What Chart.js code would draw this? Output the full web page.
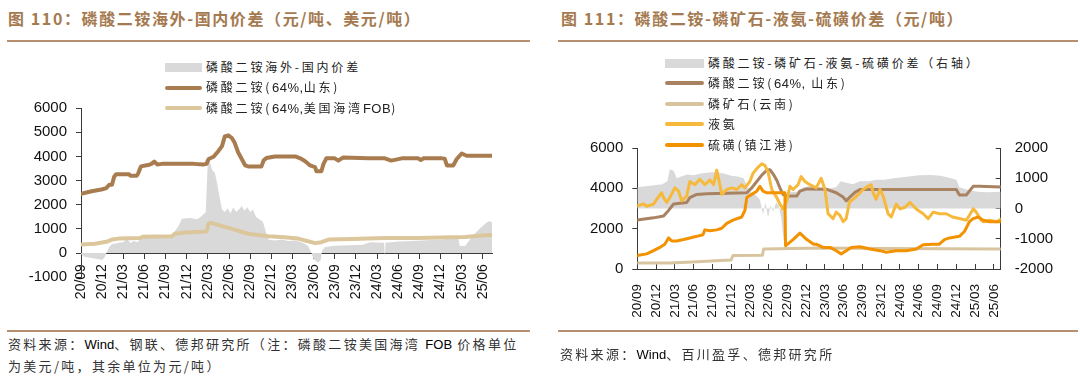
<!DOCTYPE html>
<html><head><meta charset="utf-8">
<script src="https://cdn.jsdelivr.net/npm/chart.js@4.4.1/dist/chart.umd.min.js"></script>
<style>
html,body{margin:0;padding:0;background:#fff;}
body{width:1080px;height:383px;position:relative;overflow:hidden;font-family:"Noto Sans CJK SC","Noto Sans",sans-serif;}
.title{position:absolute;top:8px;font-size:16px;font-weight:bold;color:#a57a50;letter-spacing:1.6px;white-space:nowrap;line-height:20px;}
.rule{position:absolute;height:2px;background:#b58f6f;}
.src{position:absolute;font-size:13px;color:#333;letter-spacing:2.3px;line-height:21px;white-space:nowrap;}
.src b{font-family:"Liberation Sans",Arial,sans-serif;font-weight:normal;color:#000;letter-spacing:0;}
.leg{position:absolute;font-size:12px;color:#222;letter-spacing:2.8px;white-space:nowrap;}
.leg .row{position:absolute;left:0;height:20px;line-height:20px;display:flex;align-items:center;}
.leg .sw{display:inline-block;margin-right:4px;}
.leg .num{font-family:"Liberation Sans",Arial,sans-serif;letter-spacing:0.5px;font-size:13px;}
canvas{position:absolute;}
</style></head><body>

<div class="title" style="left:8px">图 110：磷酸二铵海外-国内价差（元/吨、美元/吨）</div>
<div class="rule" style="left:7px;top:40px;width:523px"></div>
<div class="title" style="left:561px">图 111：磷酸二铵-磷矿石-液氨-硫磺价差（元/吨）</div>
<div class="rule" style="left:558px;top:40px;width:520px"></div>

<canvas id="cL" width="540" height="230" style="left:0;top:90px;width:540px;height:230px"></canvas>
<canvas id="cR" width="540" height="230" style="left:540px;top:120px;width:540px;height:230px"></canvas>

<div class="leg" id="legL" style="left:165px;top:57px"></div>
<div class="leg" id="legR" style="left:665px;top:53px"></div>

<div class="rule" style="left:7px;top:330px;width:523px"></div>
<div class="rule" style="left:558px;top:330px;width:520px"></div>
<div class="src" style="left:8px;top:333px">资料来源：<b>Wind</b>、钢联、德邦研究所（注：磷酸二铵美国海湾 <b>FOB</b> 价格单位<br>为美元/吨，其余单位为元/吨）</div>
<div class="src" style="left:560px;top:343px">资料来源：<b>Wind</b>、百川盈孚、德邦研究所</div>

<script>
// ---------- DATA (x = months after 2020-09, y = value) ----------
const quarterLabels = ['20/09','20/12','21/03','21/06','21/09','21/12','22/03','22/06','22/09','22/12',
  '23/03','23/06','23/09','23/12','24/03','24/06','24/09','24/12','25/03','25/06'];

// Figure 110
const dapShandongL = [[0,2450],[1.5,2560],[2.9,2630],[3.6,2690],[4.0,2825],[4.4,2825],[4.7,3160],[5.0,3265],[6.8,3265],[7.0,3200],
  [7.9,3200],[8.1,3290],[8.5,3585],[9.5,3640],[10.0,3690],[10.4,3785],[10.8,3665],[11.5,3690],[14,3700],[16,3690],[17.3,3660],[17.8,3690],
  [18.1,3890],[18.8,3985],[19.5,4225],[20.0,4425],[20.4,4825],[20.9,4870],[21.4,4760],[21.8,4560],[22.3,4160],[22.8,3890],
  [23.3,3625],[23.7,3585],[25.6,3585],[25.9,3825],[26.3,3930],[27.5,3998],[30.4,3998],[31.1,3918],[31.8,3800],[32.5,3625],
  [33.2,3558],[33.4,3385],[34.1,3385],[34.4,3690],[34.8,3918],[36.0,3918],[36.5,3825],[37.2,3958],[40.8,3918],[43.1,3918],
  [44.0,3825],[45.5,3918],[47.8,3918],[48.2,3852],[48.6,3918],[51.2,3918],[51.6,3900],[51.9,3625],[52.8,3625],[53.3,3890],
  [54.0,4118],[54.7,4025],[58.3,4025]];
const dapGulfFob = [[0,360],[2.0,387],[3.6,467],[4.4,560],[5.3,600],[8.4,625],[8.8,680],[12.9,693],[13.3,800],[14.8,850],
  [17.8,893],[18.1,1225],[18.5,1250],[19.5,1160],[21.4,1000],[23.7,800],[26.6,693],[28.9,653],[30.8,600],[32.2,493],
  [33.2,413],[34.1,453],[35.1,560],[38.4,587],[43.1,627],[47.8,627],[52.6,653],[54.5,667],[56.4,720],[58.3,747]];
const dapSpread = [[0,-50],[0.5,-150],[1.5,-200],[2.5,-250],[3.0,-280],[3.4,-150],[3.6,0],[4.0,250],[4.4,380],[5.0,400],
  [5.3,430],[6.0,450],[6.5,600],[7.0,420],[7.5,500],[8.0,450],[8.6,650],[9.5,640],[10.5,680],[11.5,620],[12.5,700],
  [12.9,700],[13.3,900],[13.8,1100],[14.3,1425],[15.5,1450],[16.5,1400],[17.0,1500],[17.7,1700],[18.0,3900],[18.3,3750],
  [18.6,3450],[19.0,3300],[19.3,2900],[19.6,2400],[20.0,1800],[20.4,1700],[20.8,1850],[21.2,1650],[21.6,1900],[22.0,1700],
  [22.4,1800],[22.8,1950],[23.2,1750],[23.6,1900],[24.0,1700],[24.4,1800],[24.8,1500],[25.2,1425],[25.8,1300],[26.3,800],
  [26.6,560],[27.5,520],[28.5,560],[29.4,500],[30.5,520],[31.5,420],[32.2,300],[32.7,0],[33.0,-250],[33.6,-390],[34.0,-300],
  [34.2,100],[34.6,250],[36,300],[38,330],[40,350],[41,450],[43,430],[43.1,-200],[43.2,430],[45,480],[47,500],[49,530],
  [51.5,560],[52,700],[53.5,690],[53.7,300],[54.5,290],[55.5,700],[56.5,1000],[57.3,1200],[57.8,1320],[58.3,1290]];

// Figure 111
const dapShandongR = [[0,2425],[2.6,2536],[4.2,2632],[5.0,2904],[5.8,3222],[7.9,3300],[8.4,3540],[9.5,3700],[11.1,3730],
  [17.5,3780],[18.3,4020],[19.1,4340],[19.9,4656],[20.7,4896],[21.2,4920],[21.7,4720],[22.3,4400],[22.8,4020],[23.3,3700],
  [23.9,3620],[25.5,3620],[26.0,3860],[27.1,3970],[30.2,3960],[31.8,3780],[32.9,3570],[33.4,3380],[33.9,3540],[34.8,3800],
  [35.6,3940],[49.9,3940],[51.0,3940],[51.5,3670],[52.6,3670],[53.7,4100],[54.7,4100],[58.1,4060]];
const rockYunnan = [[0,300],[5.2,300],[7.9,330],[11.1,380],[14,430],[15.0,450],[15.3,670],[20.0,680],[20.2,990],
  [29.2,1040],[40,1020],[58.1,990]];
const ammonia = [[0,3140],[1.0,3220],[1.5,3110],[2.6,3220],[3.1,3460],[3.9,3780],[4.2,3540],[4.7,3300],[5.2,3540],[6.0,4020],
  [6.6,3860],[7.1,3380],[7.9,3620],[8.4,4340],[9.2,4180],[10.0,4450],[10.8,4180],[11.6,4420],[12.2,4180],[12.7,4900],
  [13.2,4180],[13.5,3700],[14.3,3940],[15.1,4020],[15.9,3940],[16.7,4180],[17.2,4020],[18.0,4340],[18.5,4740],[19.1,4980],
  [19.9,5220],[20.4,5140],[20.9,4820],[21.5,3940],[22.3,3540],[22.8,3220],[23.3,2980],[23.9,3380],[24.4,4100],[24.9,3940],
  [25.7,4180],[26.2,4580],[26.8,4340],[27.6,4180],[28.6,4020],[29.4,4500],[30.0,3940],[30.5,2740],[31.3,2500],[31.8,2820],
  [32.4,2660],[32.9,2345],[33.4,2500],[33.9,3300],[34.8,3540],[35.6,3780],[36.1,3940],[36.9,4100],[37.4,4180],[37.7,3780],
  [38.2,3460],[38.8,3940],[39.3,3620],[40.1,2740],[40.6,2580],[41.4,3220],[42.0,2980],[42.8,3060],[43.6,3300],[44.6,2980],
  [45.7,2740],[46.5,2500],[47.3,2820],[48.3,2740],[49.4,2740],[50.4,2580],[51.5,2500],[52.6,2420],[53.1,2660],[53.7,2980],
  [54.2,2820],[54.8,2500],[55.3,2345],[56.3,2420],[57.4,2345],[58.1,2470]];
const sulfur = [[0,670],[1.5,750],[2.6,910],[3.6,1070],[4.4,1230],[5.0,1540],[5.5,1390],[6.3,1390],[7.4,1460],[8.4,1540],
  [9.5,1620],[10.5,1700],[10.8,1940],[11.6,1900],[12.7,1940],[13.5,2020],[14.3,2260],[15.3,2420],[16.7,2580],[17.2,2900],
  [17.5,3540],[18.3,3700],[19.1,3860],[19.6,4100],[20.1,3860],[20.7,3780],[23.6,3780],[23.7,1150],[24.9,1460],[26.0,1780],
  [27.1,1460],[28.2,1230],[28.6,1230],[29.7,1070],[30.8,1070],[31.8,910],[32.6,750],[33.4,910],[34.2,1070],[35.6,1100],
  [37.2,990],[38.8,910],[39.8,830],[41.4,910],[43.0,910],[44.6,990],[45.7,1200],[47.3,1230],[48.3,1230],[49.1,1460],
  [49.9,1540],[51.5,1620],[52.3,1860],[53.1,2345],[53.7,2500],[54.5,2580],[55.3,2420],[56.3,2345],[58.1,2345]];
const chainSpread = [[0,700],[2,750],[4,800],[4.8,900],[5.2,1300],[5.8,1250],[6.3,1000],[7,1060],[8,1120],[9,1100],[10,1150],
  [11,1180],[12,1200],[13,1180],[14,1150],[15,1080],[16,1060],[17,1000],[17.5,750],[18.3,500],[19,430],[19.6,300],[20.1,-200],
  [20.5,200],[20.9,-300],[21.3,100],[21.7,-100],[22.2,200],[22.6,100],[23,-300],[23.3,-900],[23.6,-1280],[23.8,400],[24.3,535],
  [25.5,550],[26.5,700],[28,750],[29,700],[30.5,650],[31.8,700],[32.5,900],[33.4,850],[34.5,800],[35.6,900],[37,900],[38.2,950],
  [39.5,950],[41,1000],[43,1050],[45,1100],[47,1110],[48.5,1080],[50,1010],[51,950],[51.5,700],[53,600],[54.5,550],[56,535],[58.1,550]];

// ---------- rendering ----------
const toXY = a => a.map(p => ({x:p[0], y:p[1]}));
const AX = '#3a3a3a';
Chart.defaults.font.family = '"Liberation Sans", Arial, sans-serif';
Chart.defaults.color = '#111';

function xScale(max, extra){
  return Object.assign({
    type:'linear', min:0, max:max,
    border:{display:true,color:AX,width:1},
    grid:{display:true,drawOnChartArea:false,drawTicks:true,tickLength:5,color:AX},
    ticks:{stepSize:3,includeBounds:false,autoSkip:false,maxRotation:90,minRotation:90,padding:6,
      font:{size:14},color:'#111',callback:v=>quarterLabels[Math.round(v/3)] ?? ''}
  }, extra||{});
}
function yScale(min,max,step,pos,w,extra){
  return Object.assign({
    type:'linear', min:min, max:max, position:pos,
    border:{display:true,color:AX,width:1},
    grid:{display:true,drawOnChartArea:false,drawTicks:true,tickLength:5,color:AX},
    ticks:{stepSize:step,padding:9,font:{size:15},color:'#111',callback:v=>String(Math.round(v))},
    afterFit:s=>{s.width=w;}
  }, extra||{});
}
const common = {animation:false,responsive:false,events:[],
  plugins:{legend:{display:false},tooltip:{enabled:false}}};
const lineDs = (label,data,color,w,order,axis) => ({label,data:toXY(data),borderColor:color,borderWidth:w,pointRadius:0,
  tension:0,fill:false,order,yAxisID:axis||'y',borderJoinStyle:'round',borderCapStyle:'round'});
const areaDs = (label,data,order,axis) => ({label,data:toXY(data),borderWidth:0,borderColor:'rgba(0,0,0,0)',
  backgroundColor:'#d9d9d9',fill:'origin',pointRadius:0,tension:0,order,yAxisID:axis||'y'});

const colL = {brown:'#a97c4f', tan:'#dcc69c', gray:'#d9d9d9'};
const dsL = [
  areaDs('磷酸二铵海外-国内价差', dapSpread, 3),
  lineDs('磷酸二铵(64%,山东)', dapShandongL, colL.brown, 4, 1),
  lineDs('磷酸二铵(64%,美国海湾FOB)', dapGulfFob, colL.tan, 4, 2)
];
new Chart(document.getElementById('cL'), {
  type:'line', data:{datasets:dsL},
  options:Object.assign({}, common, {
    layout:{padding:{left:0,top:12.3,right:48,bottom:42.7}},
    scales:{
      x:xScale(58.3,{position:{y:0}}),
      y:yScale(-1000,6000,1000,'left',81)
    }
  })
});

const colR = {brown:'#a98361', tan:'#d8c5a0', yellow:'#f6b93b', orange:'#f39200'};
const dsR = [
  areaDs('磷酸二铵-磷矿石-液氨-硫磺价差（右轴）', chainSpread, 5, 'y1'),
  lineDs('磷酸二铵(64%, 山东)', dapShandongR, colR.brown, 3, 3),
  lineDs('磷矿石(云南)', rockYunnan, colR.tan, 3, 4),
  lineDs('液氨', ammonia, colR.yellow, 3, 2),
  lineDs('硫磺(镇江港)', sulfur, colR.orange, 3, 1)
];
const xR = xScale(58.1);
xR.grid.tickLength = -5; xR.ticks.padding = 20; xR.ticks.font = {size:13.5};
xR.afterFit = s=>{s.height=81;};
const y1R = yScale(-2000,2000,1000,'right',79.3);
y1R.grid.tickLength = -5; y1R.ticks.padding = 19;
new Chart(document.getElementById('cR'), {
  type:'line', data:{datasets:dsR},
  options:Object.assign({}, common, {
    layout:{padding:{left:0,top:23.7,right:0,bottom:0}},
    scales:{
      x:xR,
      y:yScale(0,6000,2000,'left',97.3),
      y1:y1R
    }
  })
});

// ---------- HTML legends ----------
function legend(id, items, rowH, swW){
  const box = document.getElementById(id);
  items.forEach((it,i)=>{
    const r = document.createElement('div'); r.className='row'; r.style.top=(i*rowH)+'px';
    const sw = document.createElement('span'); sw.className='sw';
    sw.style.width=swW+'px';
    if(it.area){ sw.style.height='9px'; sw.style.background=it.color; }
    else { sw.style.height='4px'; sw.style.background=it.color; sw.style.borderRadius='2px'; }
    r.appendChild(sw);
    const t = document.createElement('span');
    t.innerHTML = it.label.replace(/([0-9A-Za-z%,]+)/g,'<span class="num">$1</span>');
    r.appendChild(t); box.appendChild(r);
  });
}
legend('legL', [
  {label:dsL[0].label, color:colL.gray, area:true},
  {label:dsL[1].label, color:colL.brown},
  {label:dsL[2].label, color:colL.tan}
], 20.5, 37);
legend('legR', [
  {label:dsR[0].label, color:'#d9d9d9', area:true},
  {label:dsR[1].label, color:colR.brown},
  {label:dsR[2].label, color:colR.tan},
  {label:dsR[3].label, color:colR.yellow},
  {label:dsR[4].label, color:colR.orange}
], 20.4, 39);
</script>
</body></html>
